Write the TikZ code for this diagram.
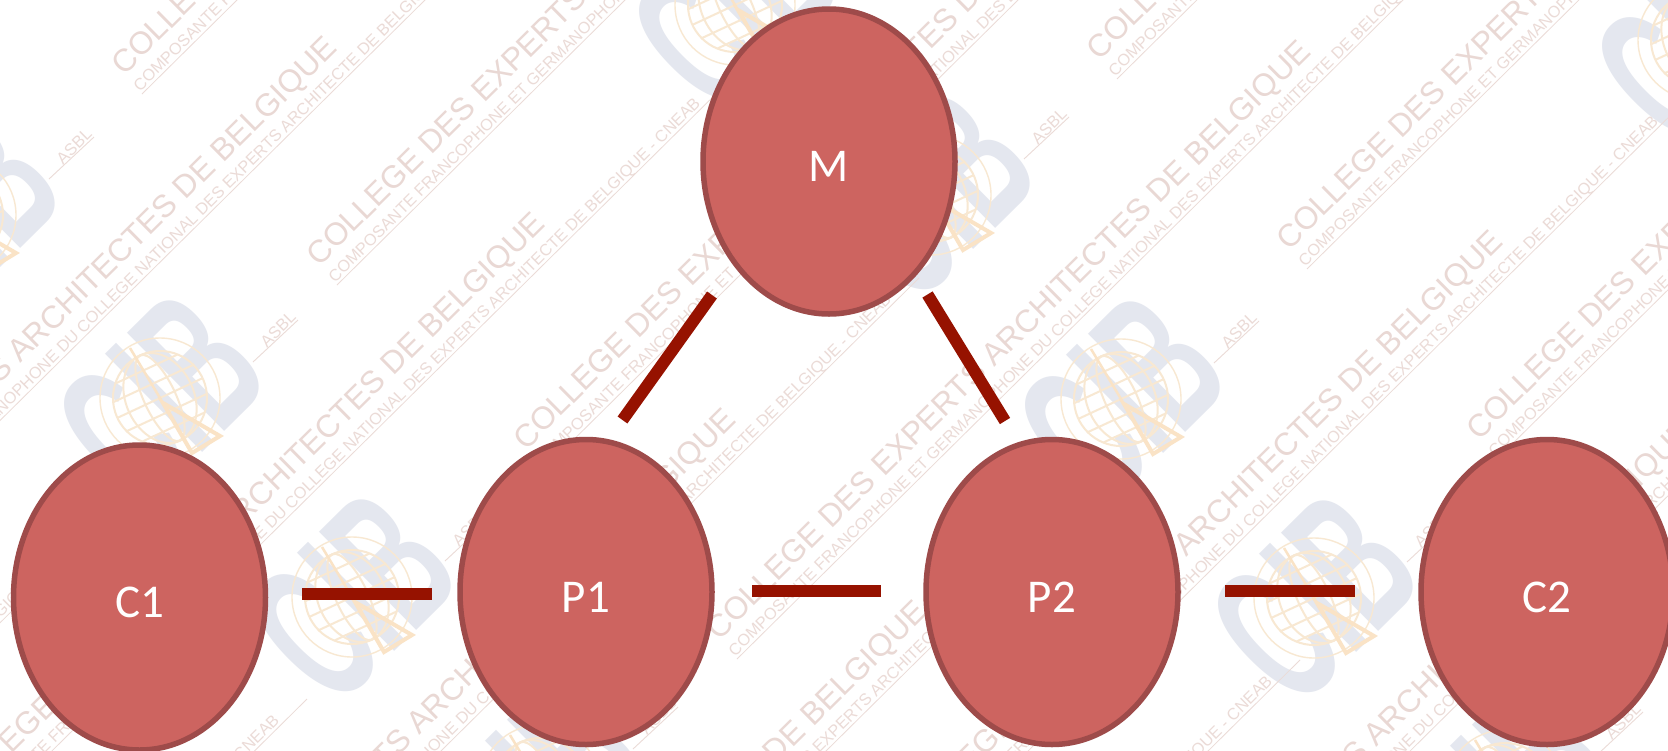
\documentclass[tikz,border=0pt]{standalone}
\usepackage{fontspec}
\usepackage{graphicx}
\usetikzlibrary{shapes.geometric}
\setmainfont{Liberation Sans}
\newfontfamily\calib{Carlito}
\definecolor{wmtext}{HTML}{E9D8D4}
\definecolor{wmsub}{HTML}{EBDBD7}
\definecolor{wmletter}{HTML}{E4E7EF}
\definecolor{wmglobe}{HTML}{F8E8D2}
\definecolor{wmtri}{HTML}{FAE3C6}
\definecolor{nodefill}{HTML}{CD6460}
\definecolor{nodeline}{HTML}{9E4B4A}
\definecolor{barcol}{HTML}{961200}
\tikzset{
  persona/.style={ellipse,draw=nodeline,fill=nodefill,line width=5.5pt,minimum width=252pt,minimum height=305pt,inner sep=0pt},
  plabel/.style={text=white,font=\calib\fontsize{47}{50}\selectfont,yshift=-5pt},
  bar/.style={draw=barcol,line width=12pt},
  wm/.style={rotate=44.7,anchor=base west,inner sep=0pt,outer sep=0pt},
}
\begin{document}
\begin{tikzpicture}[x=1pt,y=-1pt]
\useasboundingbox (0,0) rectangle (1668,750);
\fill[white] (0,0) rectangle (1668,750);
\begin{scope}
\clip (0,0) rectangle (1668,750);
% logos
\foreach \gx/\gy in {-44/215,160/398,352/597,540/785,735/5,931/195,1121/399,1314/598,1505/790,1698/40}{
  \node[rotate=44.7,inner sep=0pt,text=wmletter,font=\bfseries] at (\gx,\gy) {\resizebox{186pt}{140pt}{CIB}};
  \begin{scope}[shift={(\gx,\gy)},wmglobe,line width=2pt]
    \draw[line width=1.4pt] (0,0) circle[radius=60];
    \draw (0,0) circle[radius=47];
    \draw[rotate=25] (0,0) ellipse[x radius=16,y radius=47];
    \draw[rotate=25] (0,0) ellipse[x radius=34,y radius=47];
    \draw[rotate=25] (-45,-16) -- (45,-16) (-47,0) -- (47,0) (-45,16) -- (45,16) (-34,-32) -- (34,-32) (-34,32) -- (34,32);
    \draw[wmtri,line width=2.5pt] (-30,-50) -- (3,5);
    \draw[wmtri,line width=4pt,line join=miter] (3,5) -- (60,38) -- (32,55) -- cycle;
  \end{scope}
  \node[wm,text=wmsub,font=\fontsize{16.5}{17}\selectfont] at (\gx+107,\gy-50) {ASBL};
  \draw[wmsub,line width=.9pt] (\gx+93,\gy-36) -- (\gx+138,\gy-78);
}
% texts
\foreach \tx/\ty in {124/76,319/267,526/451,719/641,911/831,1101/1021,1291/1211,
                     1099/61,1289/251,1479/441,1669/631,
                     -255/637,-47/813,144/1009,335/1201,525/1391,
                     -660/1240,-468/1430,-276/1620}{
  \node[wm,text=wmtext] at (\tx,\ty) {\resizebox{835pt}{!}{COLLEGE DES EXPERTS ARCHITECTES DE BELGIQUE}};
  \node[wm,text=wmsub] at (\tx+16,\ty+16) {\resizebox{1030pt}{!}{COMPOSANTE FRANCOPHONE ET GERMANOPHONE DU COLLEGE NATIONAL DES EXPERTS ARCHITECTE DE BELGIQUE - CNEAB}};
  \draw[wmsub,line width=.8pt] (\tx+18,\ty+18) -- (\tx+775,\ty-731);
}
\end{scope}
\node[persona,label={[plabel]center:M}] (M) at (829,161.5) {};
\node[persona,label={[plabel]center:C1}] (C1) at (139.5,597.5) {};
\node[persona,label={[plabel]center:P1}] (P1) at (586,592) {};
\node[persona,label={[plabel]center:P2}] (P2) at (1052,592) {};
\node[persona,label={[plabel]center:C2}] (C2) at (1547,592) {};
\coordinate (mpa) at (712,295);
\coordinate (mpb) at (622.5,420);
\coordinate (mqa) at (927.5,294.5);
\coordinate (mqb) at (1005,421);
\coordinate (cpa) at (302,594);
\coordinate (cpb) at (432,594);
\coordinate (ppa) at (752,591);
\coordinate (ppb) at (881,591);
\coordinate (pca) at (1225,591);
\coordinate (pcb) at (1355,591);
\draw[bar] (mpa) -- (mpb);
\draw[bar] (mqa) -- (mqb);
\draw[bar] (cpa) -- (cpb);
\draw[bar] (ppa) -- (ppb);
\draw[bar] (pca) -- (pcb);
\end{tikzpicture}
\end{document}
